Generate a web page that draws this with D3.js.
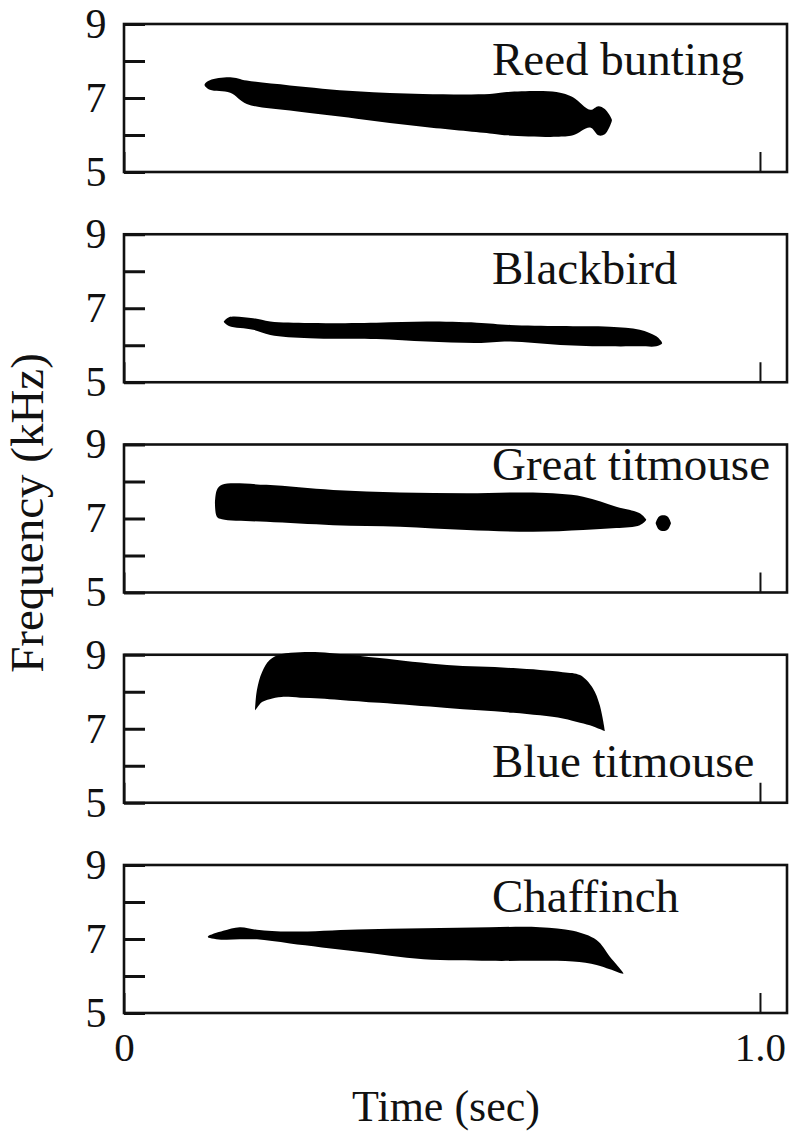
<!DOCTYPE html>
<html>
<head>
<meta charset="utf-8">
<script src="https://cdn.jsdelivr.net/npm/d3@7"></script>
<style>
  html, body { margin: 0; padding: 0; background: #fff; }
  svg { display: block; }
</style>
</head>
<body>
<svg id="chart" width="790" height="1132"></svg>
<script>
// Song sonograms: frequency envelope (upper / lower edge, kHz) over time (s)
const species = ["Reed bunting", "Blackbird", "Great titmouse", "Blue titmouse", "Chaffinch"];

const freqTickValues = [5, 6, 7, 8, 9];
const freqLabelValues = [5, 7, 9];
const timeTickValues = [0, 1.0];
const timeTickLabels = ["0", "1.0"];

const reedTime  = [0.127, 0.135, 0.167, 0.193, 0.261, 0.366, 0.470, 0.575, 0.602, 0.680, 0.706, 0.733, 0.746, 0.756, 0.767];
const reedUpper = [7.38, 7.48, 7.56, 7.47, 7.34, 7.18, 7.11, 7.11, 7.16, 7.16, 7.02, 6.68, 6.78, 6.70, 6.42];
const reedLower = [7.33, 7.22, 7.14, 6.84, 6.66, 6.44, 6.22, 6.04, 5.99, 5.95, 5.99, 6.20, 5.99, 6.02, 6.38];

const blackTime  = [0.157, 0.165, 0.203, 0.230, 0.292, 0.397, 0.476, 0.555, 0.607, 0.686, 0.764, 0.811, 0.837, 0.846];
const blackUpper = [6.64, 6.76, 6.73, 6.64, 6.60, 6.61, 6.64, 6.61, 6.55, 6.52, 6.50, 6.42, 6.24, 6.07];
const blackLower = [6.63, 6.52, 6.42, 6.28, 6.19, 6.17, 6.10, 6.06, 6.10, 6.01, 5.97, 5.97, 5.97, 6.05];

const greatTime  = [0.143, 0.146, 0.154, 0.224, 0.329, 0.434, 0.539, 0.643, 0.722, 0.774, 0.811, 0.821];
const greatUpper = [7.42, 7.77, 7.91, 7.91, 7.77, 7.70, 7.68, 7.70, 7.59, 7.32, 7.14, 6.97];
const greatLower = [7.41, 7.05, 6.98, 6.91, 6.82, 6.78, 6.69, 6.64, 6.69, 6.74, 6.82, 6.96];

const greatDotTime  = [0.836, 0.841, 0.848, 0.855, 0.860];
const greatDotUpper = [6.88, 7.05, 7.09, 7.05, 6.88];
const greatDotLower = [6.87, 6.70, 6.66, 6.70, 6.87];

const blueTime  = [0.206, 0.209, 0.217, 0.229, 0.248, 0.277, 0.308, 0.340, 0.402, 0.508, 0.612, 0.690, 0.717, 0.737, 0.748, 0.756];
const blueUpper = [7.51, 8.05, 8.53, 8.86, 9.02, 9.07, 9.07, 9.02, 8.91, 8.72, 8.64, 8.53, 8.45, 8.10, 7.64, 6.95];
const blueLower = [7.50, 7.56, 7.72, 7.80, 7.86, 7.84, 7.82, 7.78, 7.70, 7.56, 7.43, 7.28, 7.16, 7.07, 6.99, 6.94];

const chaffTime  = [0.132, 0.156, 0.182, 0.209, 0.261, 0.366, 0.471, 0.575, 0.654, 0.706, 0.743, 0.764, 0.785];
const chaffUpper = [7.07, 7.22, 7.32, 7.25, 7.20, 7.26, 7.29, 7.32, 7.32, 7.22, 6.97, 6.52, 6.08];
const chaffLower = [7.05, 6.98, 6.99, 6.99, 6.88, 6.66, 6.45, 6.41, 6.41, 6.39, 6.30, 6.18, 6.06];

// Each panel: list of notes, each note = [time, upper, lower]
const notes = [
  [[reedTime, reedUpper, reedLower]],
  [[blackTime, blackUpper, blackLower]],
  [[greatTime, greatUpper, greatLower], [greatDotTime, greatDotUpper, greatDotLower]],
  [[blueTime, blueUpper, blueLower]],
  [[chaffTime, chaffUpper, chaffLower]]
];

// ---- layout ----
const ink = "#111";
const serif = "'Liberation Serif', 'Times New Roman', serif";
const left = 124, right = 787;
const firstTop = 24, panelStep = 210.25, panelH = 148;
const titleX = 492;
const titleBaseline = [51, 50, 35.5, 122.5, 47];

const svg = d3.select("#chart");

const x = d3.scaleLinear().domain([0, 1.0425]).range([left, right]);

const outline = d3.line()
  .x(d => x(d[0]))
  .y(d => d[1])
  .curve(d3.curveCatmullRomClosed.alpha(0.5));

species.forEach((name, i) => {
  const top = firstTop + i * panelStep;
  const bottom = top + panelH;
  const y = d3.scaleLinear().domain([5, 9]).range([bottom, top]);
  const last = i === species.length - 1;

  const g = svg.append("g");

  // panel frame
  g.append("rect")
    .attr("x", left).attr("y", top)
    .attr("width", right - left).attr("height", panelH)
    .attr("fill", "none").attr("stroke", ink).attr("stroke-width", 2.6);

  // frequency axis: inward ticks, labels at 5, 7, 9
  const yAxis = d3.axisLeft(y)
    .tickValues(freqTickValues)
    .tickSize(-21)
    .tickPadding(18)
    .tickFormat(v => freqLabelValues.includes(v) ? String(v) : "");
  const ya = g.append("g").attr("transform", `translate(${left},0)`).call(yAxis);
  ya.select(".domain").remove();
  ya.selectAll(".tick line").attr("stroke", ink).attr("stroke-width", 3);
  ya.selectAll(".tick text")
    .attr("fill", ink).attr("font-family", serif).attr("font-size", 42)
    .attr("text-anchor", "middle").attr("x", -28);

  // time axis: inward tick at 1.0, labels only under the last panel
  const xAxis = d3.axisBottom(x)
    .tickValues(timeTickValues)
    .tickSize(-20)
    .tickPadding(19)
    .tickFormat((v, k) => last ? timeTickLabels[k] : "");
  const xa = g.append("g").attr("transform", `translate(0,${bottom})`).call(xAxis);
  xa.select(".domain").remove();
  xa.selectAll(".tick line").attr("stroke", ink).attr("stroke-width", 2);
  xa.selectAll(".tick text")
    .attr("fill", ink).attr("font-family", serif).attr("font-size", 41);

  // song notes
  notes[i].forEach(([t, up, lo]) => {
    const pts = t.map((tv, k) => [tv, y(up[k])])
      .concat(t.map((tv, k) => [tv, y(lo[k])]).reverse());
    g.append("path")
      .attr("d", outline(pts))
      .attr("fill", "#000");
  });

  // species name
  g.append("text")
    .attr("x", titleX).attr("y", top + titleBaseline[i])
    .attr("font-family", serif).attr("font-size", 47)
    .attr("fill", ink)
    .text(name);
});

// axis titles
svg.append("text")
  .attr("transform", "translate(43,513) rotate(-90)")
  .attr("text-anchor", "middle")
  .attr("font-family", serif).attr("font-size", 47)
  .attr("fill", ink)
  .text("Frequency (kHz)");

svg.append("text")
  .attr("x", 446).attr("y", 1121)
  .attr("text-anchor", "middle")
  .attr("font-family", serif).attr("font-size", 44)
  .attr("fill", ink)
  .text("Time (sec)");
</script>
</body>
</html>
